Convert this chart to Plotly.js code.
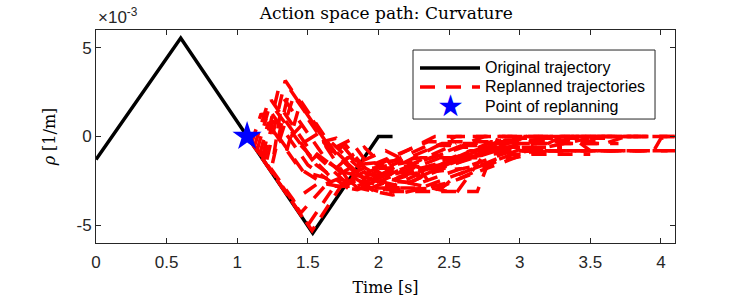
<!DOCTYPE html>
<html><head><meta charset="utf-8">
<script src="https://cdn.plot.ly/plotly-3.0.1.min.js"></script>
<style>html,body{margin:0;padding:0;background:#fff}#chart{width:747px;height:299px}</style>
</head><body><div id="chart"></div>
<script>
// values of rho are in units of 1e-3 [1/m]
const origTime = [0, 0.60, 1.535, 2.0, 2.10];
const origRho  = [-1.3, 5.55, -5.45, 0, 0];

const replanPointTime = [1.07];
const replanPointRho  = [0.0];

const replanTime = [
  [1.07, 1.53, 1.75, 2.40, 2.90],
  [1.09, 1.50, 1.68, 2.35, 2.80],
  [1.11, 1.45, 1.62, 1.90, 2.55],
  [1.13, 1.40, 1.58, 1.85, 2.50],
  [1.10, 1.17, 1.44, 1.62, 2.35, 2.90],
  [1.12, 1.21, 1.50, 1.72, 2.45, 3.10],
  [1.14, 1.24, 1.56, 1.80, 2.55, 3.20],
  [1.18, 1.29, 1.62, 1.88, 2.65, 3.40],
  [1.21, 1.34, 1.70, 1.98, 2.80, 3.60],
  [1.25, 1.37, 1.62, 1.92, 2.75, 3.80],
  [1.35, 1.45, 1.62, 1.95, 2.85, 4.10],
  [1.45, 1.65, 2.00, 2.70, 2.85, 3.60],
  [1.55, 1.80, 2.10, 2.50, 3.10, 3.90],
  [1.65, 1.95, 2.30, 2.95, 3.55, 4.10],
  [1.75, 2.05, 2.60, 3.00, 3.75],
  [1.85, 2.15, 2.90, 3.30, 3.90, 4.10],
  [2.00, 2.50, 2.90, 3.40, 3.50, 3.95, 4.00, 4.10],
  [1.26, 1.31, 1.50, 1.70, 1.78, 2.00, 2.60, 3.30],
  [1.30, 1.40, 1.55, 1.65, 1.85, 2.20, 2.90, 3.70],
  [1.38, 1.50, 1.68, 1.76, 1.95, 2.45, 3.05],
  [1.48, 1.58, 1.75, 1.90, 2.10, 2.60, 3.20, 4.10],
  [1.60, 1.70, 1.85, 2.05, 2.35, 3.00, 3.70],
  [1.70, 1.80, 1.95, 2.25, 2.40, 2.95, 3.50],
  [1.80, 2.10, 2.75, 3.15, 3.30, 3.90],
  [1.95, 2.30, 2.95, 3.35],
  [2.05, 2.45, 2.55, 3.10, 3.60, 3.75, 4.10],
  [2.20, 2.55, 2.75, 3.05, 3.90],
  [1.16, 1.22, 1.47, 1.66, 1.84, 2.30, 2.70],
  [1.19, 1.27, 1.53, 1.63, 1.78, 2.15, 2.80, 3.25]
];
const replanRho = [
  [0.0, -5.3, -2.6, 0.0, 0.0],
  [-0.2, -5.0, -2.9, -0.5, -0.5],
  [-0.4, -4.3, -2.8, -2.8, -0.4],
  [-0.6, -3.6, -2.6, -3.0, -1.0],
  [-0.4, 1.3, -1.8, -2.7, -0.3, -0.3],
  [-0.6, 1.7, -1.6, -2.9, -0.4, -0.4],
  [-0.8, 2.05, -1.6, -3.0, 0.0, 0.0],
  [-1.1, 2.6, -1.2, -3.1, -0.8, -0.8],
  [-1.3, 3.15, -1.0, -3.2, -0.3, -0.3],
  [-1.5, 2.7, -0.2, -2.6, 0.0, 0.0],
  [-0.8, 2.0, 0.0, -2.4, -0.8, -0.8],
  [-0.5, -2.2, -3.1, -3.1, 0.0, 0.0],
  [-1.0, -2.8, -3.3, -2.6, -0.8, -0.8],
  [-1.5, -2.9, -2.9, -1.0, 0.0, 0.0],
  [-2.0, -2.6, -1.2, -0.8, -0.8],
  [-2.2, -2.8, -0.4, 0.0, 0.0, 0.0],
  [-1.8, -1.6, -0.2, -0.2, -0.8, -0.8, -0.1, 0.0],
  [-1.0, 1.6, -0.6, -1.8, -1.2, -2.2, -0.6, -0.6],
  [-0.2, 2.3, 0.6, -0.6, -2.0, -2.6, -0.1, -0.1],
  [0.0, 1.0, -1.1, -0.4, -2.2, -1.7, 0.0],
  [-0.3, 0.2, -1.4, -0.6, -2.2, -1.8, -0.8, -0.8],
  [-0.3, -0.1, -1.5, -0.8, -2.0, -0.4, -0.4],
  [-0.6, -0.2, -1.8, -1.4, -3.0, -1.0, -1.0],
  [-1.2, -2.4, -0.6, -0.6, 0.0, 0.0],
  [-2.5, -2.6, -0.8, -0.8],
  [-3.0, -2.9, -2.2, -0.4, -0.4, 0.0, 0.0],
  [-2.6, -3.2, -1.0, 0.0, 0.0],
  [-1.0, 0.8, -2.0, -2.4, -1.6, -1.2, -1.2],
  [-1.3, 1.5, -1.3, -0.6, -2.4, -2.9, -0.3, -0.3]
];

const xTicks = [0, 0.5, 1, 1.5, 2, 2.5, 3, 3.5, 4];
const xTickText = ['0', '0.5', '1', '1.5', '2', '2.5', '3', '3.5', '4'];
const yTicks = [-5, 0, 5];
const yTickText = ['-5', '0', '5'];
const legendLabels = ['Original trajectory', 'Replanned trajectories', 'Point of replanning'];

const RED = '#ff0000', BLACK = '#000000', BLUE = '#0000ff';
const DASH = '15px,11px';

const traces = [];
traces.push({
  x: origTime, y: origRho, type: 'scatter', mode: 'lines',
  name: legendLabels[0], showlegend: false,
  line: {color: BLACK, width: 3.5}
});
replanTime.forEach((t, i) => {
  traces.push({
    x: t, y: replanRho[i], type: 'scatter', mode: 'lines',
    name: legendLabels[1], showlegend: false,
    line: {color: RED, width: 3.5, dash: DASH}
  });
});
traces.push({
  x: replanPointTime, y: replanPointRho, type: 'scatter', mode: 'markers',
  name: legendLabels[2], showlegend: false,
  marker: {symbol: 'star', size: 22, color: BLUE, line: {width: 0}}
});

const serif = 'DejaVu Serif, serif';
const sans = 'Liberation Sans, Arial, sans-serif';
const axisCommon = {
  showline: true, linecolor: '#262626', linewidth: 1, mirror: 'ticks',
  ticks: 'inside', ticklen: 5, tickcolor: '#262626', showgrid: false, zeroline: false,
  tickfont: {family: sans, size: 17, color: '#262626'}
};

// legend box geometry (paper coordinates)
const lgX0 = 0.5475, lgX1 = 0.9655, lgY0 = 0.582, lgY1 = 0.906;
const rowY = [0.8216, 0.7324, 0.6385];
const symX0 = 0.5596, symX1 = 0.6632, symXc = 0.6114, txtX = 0.6684;

const shapes = [
  {type: 'rect', xref: 'paper', yref: 'paper', x0: lgX0, x1: lgX1, y0: lgY0, y1: lgY1,
   fillcolor: '#ffffff', line: {color: '#262626', width: 1}, layer: 'above'},
  {type: 'line', xref: 'paper', yref: 'paper', x0: symX0, x1: symX1, y0: rowY[0], y1: rowY[0],
   line: {color: BLACK, width: 3.5}},
  {type: 'line', xref: 'paper', yref: 'paper', x0: symX0, x1: symX1, y0: rowY[1], y1: rowY[1],
   line: {color: RED, width: 3.5, dash: DASH}}
];

const annotations = [{
  xref: 'paper', yref: 'paper', x: 0, y: 1, xanchor: 'left', yanchor: 'bottom', yshift: 1,
  text: '×10<sup>-3</sup>', showarrow: false,
  font: {family: sans, size: 17, color: '#262626'}
}];
legendLabels.forEach((lab, i) => {
  annotations.push({xref: 'paper', yref: 'paper', x: txtX, y: rowY[i], xanchor: 'left', yanchor: 'middle',
    text: lab, showarrow: false, font: {family: sans, size: 16, color: BLACK}});
});
annotations.push({xref: 'paper', yref: 'paper', x: symXc, y: rowY[2], xanchor: 'center', yanchor: 'middle',
  yshift: 1, text: '★', showarrow: false, font: {family: 'DejaVu Sans, sans-serif', size: 30, color: BLUE}});

const layout = {
  width: 747, height: 299,
  margin: {l: 96, r: 72, t: 30, b: 56},
  paper_bgcolor: '#ffffff', plot_bgcolor: '#ffffff',
  showlegend: false,
  title: {text: 'Action space path: Curvature', x: 0.517, xanchor: 'center', y: 0.955, yanchor: 'middle',
          font: {family: serif, size: 17, color: '#000000'}},
  xaxis: Object.assign({}, axisCommon, {
    range: [0, 4.1], tickvals: xTicks, ticktext: xTickText, ticklabelstandoff: 4,
    title: {text: 'Time [s]', font: {family: serif, size: 16, color: '#000000'}, standoff: 10}
  }),
  yaxis: Object.assign({}, axisCommon, {
    range: [-6, 6], tickvals: yTicks, ticktext: yTickText,
    title: {text: '<i>ρ</i> [1/m]', font: {family: serif, size: 16, color: '#000000'}, standoff: 16}
  }),
  shapes: shapes,
  annotations: annotations
};

Plotly.newPlot('chart', traces, layout, {displayModeBar: false, staticPlot: true});
</script>
</body></html>
